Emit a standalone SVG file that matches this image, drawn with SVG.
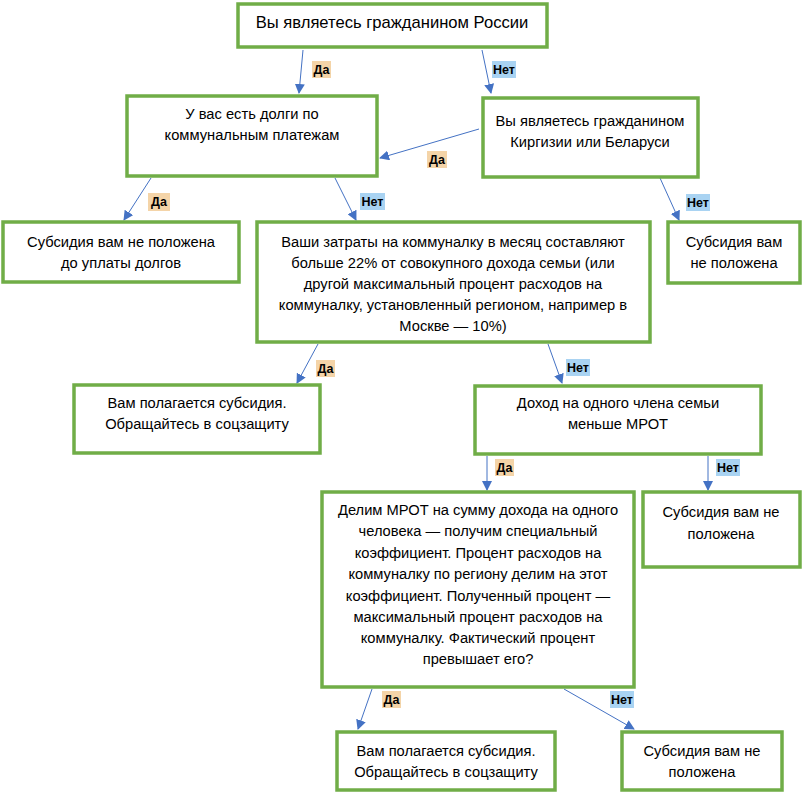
<svg xmlns="http://www.w3.org/2000/svg" width="804" height="794" viewBox="0 0 804 794">
<style>
.box{fill:#fff;stroke:#70AD47;stroke-width:3.5}
.t{font-family:"Liberation Sans",Arial,sans-serif;font-size:14.7px;fill:#000;text-anchor:middle;dominant-baseline:central}
.t16{font-size:16.6px}
.c{stroke:#4472C4;stroke-width:1;fill:none;marker-end:url(#ah)}
.lb{font-family:"Liberation Sans",Arial,sans-serif;font-size:12.5px;font-weight:bold;fill:#000;text-anchor:middle;dominant-baseline:central}
.da{fill:#F4D4A8}
.net{fill:#A9D3F2}
</style>
<defs>
<marker id="ah" viewBox="0 0 10 10" refX="9" refY="5" markerWidth="10" markerHeight="10" markerUnits="userSpaceOnUse" orient="auto">
<path d="M0,0 L10,5 L0,10 z" fill="#4472C4"/>
</marker>
</defs>
<rect width="804" height="794" fill="#fff"/>
<g id="connectors">
<line class="c" x1="303" y1="50" x2="299" y2="93"/>
<line class="c" x1="482" y1="50" x2="491" y2="93"/>
<line class="c" x1="479" y1="129" x2="380" y2="158"/>
<line class="c" x1="151" y1="178" x2="124" y2="220"/>
<line class="c" x1="335" y1="178" x2="356" y2="220"/>
<line class="c" x1="660" y1="178" x2="679" y2="220"/>
<line class="c" x1="318" y1="344" x2="297" y2="383"/>
<line class="c" x1="548" y1="344" x2="562" y2="383"/>
<line class="c" x1="487" y1="456" x2="487" y2="490"/>
<line class="c" x1="708" y1="456" x2="708" y2="490"/>
<line class="c" x1="372" y1="689" x2="358" y2="729"/>
<line class="c" x1="564" y1="689" x2="634" y2="729"/>
</g>
<g id="labels">
<rect class="da" x="312" y="61" width="19" height="17"/><text class="lb" x="321.5" y="70">Да</text>
<rect class="net" x="492" y="61" width="24" height="17"/><text class="lb" x="504" y="70">Нет</text>
<rect class="da" x="427" y="151" width="20" height="17"/><text class="lb" x="437" y="160">Да</text>
<rect class="da" x="148" y="193" width="22" height="18"/><text class="lb" x="159" y="202">Да</text>
<rect class="net" x="360" y="193" width="25" height="17"/><text class="lb" x="372.5" y="202">Нет</text>
<rect class="net" x="686" y="194" width="24" height="17"/><text class="lb" x="698" y="203">Нет</text>
<rect class="da" x="316" y="360" width="19" height="17"/><text class="lb" x="325.5" y="369">Да</text>
<rect class="net" x="566" y="359" width="24" height="17"/><text class="lb" x="578" y="368">Нет</text>
<rect class="da" x="495" y="459" width="19" height="17"/><text class="lb" x="504.5" y="468">Да</text>
<rect class="net" x="716" y="459" width="24" height="17"/><text class="lb" x="728" y="468">Нет</text>
<rect class="da" x="382" y="691" width="19" height="17"/><text class="lb" x="391.5" y="700">Да</text>
<rect class="net" x="610" y="691" width="24" height="17"/><text class="lb" x="622" y="700">Нет</text>
</g>
<g id="n1">
<rect class="box" x="238" y="4" width="309" height="43"/>
<text class="t t16" x="392" y="22">Вы являетесь гражданином России</text>
</g>
<g id="n2">
<rect class="box" x="127" y="96" width="250" height="80"/>
<text class="t" x="252" y="114">У вас есть долги по</text>
<text class="t" x="252" y="135">коммунальным платежам</text>
</g>
<g id="n3">
<rect class="box" x="483" y="98" width="215" height="79"/>
<text class="t" x="590" y="121">Вы являетесь гражданином</text>
<text class="t" x="590" y="142">Киргизии или Беларуси</text>
</g>
<g id="n4">
<rect class="box" x="3" y="222" width="236" height="60"/>
<text class="t" x="121" y="242">Субсидия вам не положена</text>
<text class="t" x="121" y="263">до уплаты долгов</text>
</g>
<g id="n5">
<rect class="box" x="257" y="222" width="393" height="120"/>
<text class="t" x="453" y="242">Ваши затраты на коммуналку в месяц составляют</text>
<text class="t" x="453" y="263">больше 22% от совокупного дохода семьи (или</text>
<text class="t" x="453" y="284">другой максимальный процент расходов на</text>
<text class="t" x="453" y="305">коммуналку, установленный регионом, например в</text>
<text class="t" x="453" y="326">Москве — 10%)</text>
</g>
<g id="n6">
<rect class="box" x="668" y="222" width="132" height="61"/>
<text class="t" x="734" y="242">Субсидия вам</text>
<text class="t" x="734" y="263">не положена</text>
</g>
<g id="n7">
<rect class="box" x="74" y="385" width="246" height="68"/>
<text class="t" x="197" y="403">Вам полагается субсидия.</text>
<text class="t" x="197" y="424">Обращайтесь в соцзащиту</text>
</g>
<g id="n8">
<rect class="box" x="475" y="386" width="286" height="68"/>
<text class="t" x="618" y="403">Доход на одного члена семьи</text>
<text class="t" x="618" y="424">меньше МРОТ</text>
</g>
<g id="n9">
<rect class="box" x="322" y="492" width="312" height="195"/>
<text class="t" x="478" y="510">Делим МРОТ на сумму дохода на одного</text>
<text class="t" x="478" y="531">человека — получим специальный</text>
<text class="t" x="478" y="553">коэффициент. Процент расходов на</text>
<text class="t" x="478" y="574">коммуналку по региону делим на этот</text>
<text class="t" x="478" y="596">коэффициент. Полученный процент —</text>
<text class="t" x="478" y="617">максимальный процент расходов на</text>
<text class="t" x="478" y="638">коммуналку. Фактический процент</text>
<text class="t" x="478" y="659">превышает его?</text>
</g>
<g id="n10">
<rect class="box" x="643" y="492" width="157" height="75"/>
<text class="t" x="721" y="512">Субсидия вам не</text>
<text class="t" x="721" y="534">положена</text>
</g>
<g id="n11">
<rect class="box" x="337" y="732" width="218" height="58"/>
<text class="t" x="446" y="751">Вам полагается субсидия.</text>
<text class="t" x="446" y="772">Обращайтесь в соцзащиту</text>
</g>
<g id="n12">
<rect class="box" x="622" y="732" width="160" height="58"/>
<text class="t" x="702" y="751">Субсидия вам не</text>
<text class="t" x="702" y="772">положена</text>
</g>
</svg>
